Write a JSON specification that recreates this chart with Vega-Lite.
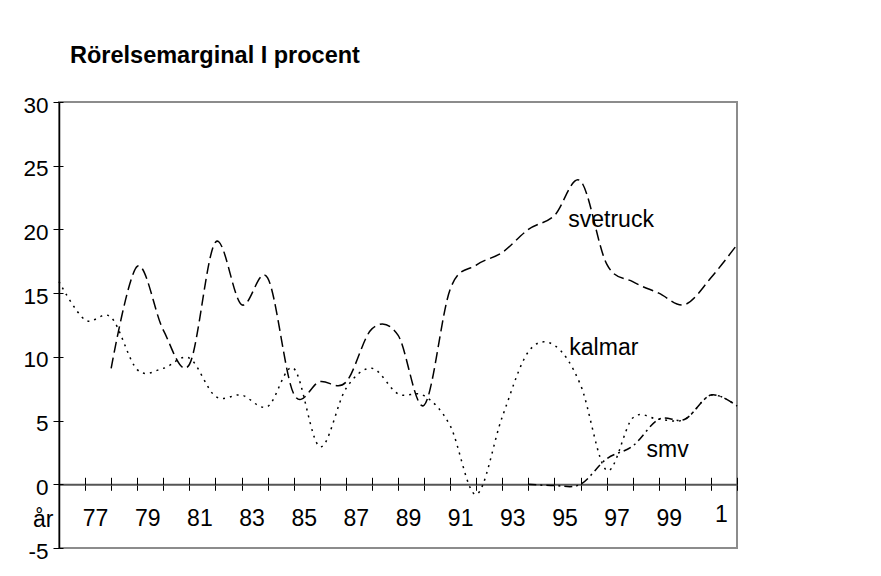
{
  "$schema": "https://vega.github.io/schema/vega-lite/v6.json",
  "width": 678,
  "height": 446,
  "autosize": {"type": "none"},
  "padding": {"left": 59, "top": 102, "right": 144, "bottom": 28},
  "background": "white",
  "title": {
    "text": "Rörelsemarginal I procent",
    "anchor": "start",
    "frame": "group",
    "dx": 11,
    "offset": 8,
    "baseline": "alphabetic",
    "font": "Liberation Sans",
    "fontSize": 23.5,
    "fontWeight": "bold",
    "color": "black"
  },
  "config": {
    "view": {"stroke": "#8c8c8c", "strokeWidth": 2},
    "font": "Liberation Sans",
    "axis": {"grid": false}
  },
  "datasets": {
    "margins": [
      {"series": "svetruck", "year": 1978, "value": 9.1},
      {"series": "svetruck", "year": 1979, "value": 17.1},
      {"series": "svetruck", "year": 1980, "value": 12.1},
      {"series": "svetruck", "year": 1981, "value": 9.4},
      {"series": "svetruck", "year": 1982, "value": 19.0},
      {"series": "svetruck", "year": 1983, "value": 14.1},
      {"series": "svetruck", "year": 1984, "value": 16.2},
      {"series": "svetruck", "year": 1985, "value": 7.1},
      {"series": "svetruck", "year": 1986, "value": 8.05},
      {"series": "svetruck", "year": 1987, "value": 8.0},
      {"series": "svetruck", "year": 1988, "value": 12.2},
      {"series": "svetruck", "year": 1989, "value": 11.7},
      {"series": "svetruck", "year": 1990, "value": 6.2},
      {"series": "svetruck", "year": 1991, "value": 15.3},
      {"series": "svetruck", "year": 1992, "value": 17.2},
      {"series": "svetruck", "year": 1993, "value": 18.2},
      {"series": "svetruck", "year": 1994, "value": 20.0},
      {"series": "svetruck", "year": 1995, "value": 21.1},
      {"series": "svetruck", "year": 1996, "value": 23.8},
      {"series": "svetruck", "year": 1997, "value": 17.3},
      {"series": "svetruck", "year": 1998, "value": 15.9},
      {"series": "svetruck", "year": 1999, "value": 15.0},
      {"series": "svetruck", "year": 2000, "value": 14.1},
      {"series": "svetruck", "year": 2001, "value": 16.2},
      {"series": "svetruck", "year": 2002, "value": 18.8},
      {"series": "kalmar", "year": 1976, "value": 15.9},
      {"series": "kalmar", "year": 1977, "value": 12.9},
      {"series": "kalmar", "year": 1978, "value": 13.1},
      {"series": "kalmar", "year": 1979, "value": 9.0},
      {"series": "kalmar", "year": 1980, "value": 9.1},
      {"series": "kalmar", "year": 1981, "value": 9.9},
      {"series": "kalmar", "year": 1982, "value": 6.9},
      {"series": "kalmar", "year": 1983, "value": 7.0},
      {"series": "kalmar", "year": 1984, "value": 6.1},
      {"series": "kalmar", "year": 1985, "value": 9.1},
      {"series": "kalmar", "year": 1986, "value": 2.95},
      {"series": "kalmar", "year": 1987, "value": 7.5},
      {"series": "kalmar", "year": 1988, "value": 9.1},
      {"series": "kalmar", "year": 1989, "value": 7.1},
      {"series": "kalmar", "year": 1990, "value": 6.95},
      {"series": "kalmar", "year": 1991, "value": 4.6},
      {"series": "kalmar", "year": 1992, "value": -0.8},
      {"series": "kalmar", "year": 1993, "value": 5.3},
      {"series": "kalmar", "year": 1994, "value": 10.4},
      {"series": "kalmar", "year": 1995, "value": 10.9},
      {"series": "kalmar", "year": 1996, "value": 7.8},
      {"series": "kalmar", "year": 1997, "value": 1.1},
      {"series": "kalmar", "year": 1998, "value": 5.2},
      {"series": "kalmar", "year": 1999, "value": 5.1},
      {"series": "kalmar", "year": 2000, "value": 5.1},
      {"series": "kalmar", "year": 2001, "value": 7.0},
      {"series": "kalmar", "year": 2002, "value": 6.15},
      {"series": "smv", "year": 1994, "value": 0.0},
      {"series": "smv", "year": 1995, "value": -0.1},
      {"series": "smv", "year": 1996, "value": 0.0},
      {"series": "smv", "year": 1997, "value": 2.0},
      {"series": "smv", "year": 1998, "value": 3.0},
      {"series": "smv", "year": 1999, "value": 5.1},
      {"series": "smv", "year": 2000, "value": 5.1},
      {"series": "smv", "year": 2001, "value": 7.0},
      {"series": "smv", "year": 2002, "value": 6.15}
    ],
    "labels": [
      {"label": "svetruck", "year": 1995.53, "value": 20.2},
      {"label": "kalmar", "year": 1995.57, "value": 10.15},
      {"label": "smv", "year": 1998.53, "value": 2.17}
    ]
  },
  "layer": [
    {
      "data": {"name": "margins"},
      "mark": {"type": "line", "interpolate": "cardinal", "tension": 0, "color": "black", "strokeWidth": 1.5},
      "encoding": {
        "x": {
          "field": "year",
          "type": "quantitative",
          "scale": {"domain": [1976, 2002], "nice": false, "zero": false},
          "axis": {
            "orient": "bottom",
            "offset": -63.71,
            "values": [1976, 1977, 1978, 1979, 1980, 1981, 1982, 1983, 1984, 1985, 1986, 1987, 1988, 1989, 1990, 1991, 1992, 1993, 1994, 1995, 1996, 1997, 1998, 1999, 2000, 2001, 2002],
            "labelExpr": "datum.value % 2 == 1 ? (datum.value == 2001 ? '1' : slice(toString(datum.value), 2)) : ''",
            "labelOverlap": false,
            "labelFlush": false,
            "labelBound": false,
            "labelOffset": 10,
            "labelPadding": {"condition": {"test": "datum.value == 2001", "value": 13}, "value": 17},
            "labelFontSize": 23,
            "labelFont": "Liberation Sans",
            "labelColor": "black",
            "tickSize": 6,
            "tickColor": "black",
            "tickWidth": 1,
            "domainColor": "#555555",
            "domainWidth": 2,
            "title": "år",
            "titleX": -6,
            "titleY": 42,
            "titleAlign": "right",
            "titleBaseline": "alphabetic",
            "titleAngle": 0,
            "titleFont": "Liberation Sans",
            "titleFontWeight": "normal",
            "titleFontSize": 23,
            "titleColor": "black"
          }
        },
        "y": {
          "field": "value",
          "type": "quantitative",
          "scale": {"domain": [-5, 30], "nice": false, "zero": false},
          "axis": {
            "orient": "left",
            "values": [-5, 0, 5, 10, 15, 20, 25, 30],
            "labelExpr": "toString(datum.value)",
            "tickSize": 6,
            "tickColor": "black",
            "labelPadding": 5,
            "labelOffset": 3,
            "labelFontSize": 22.5,
            "labelFont": "Liberation Sans",
            "labelColor": "black",
            "domainColor": "black",
            "domainWidth": 1.5,
            "title": null
          }
        },
        "strokeDash": {
          "field": "series",
          "type": "nominal",
          "scale": {"domain": ["svetruck", "kalmar", "smv"], "range": [[11, 5], [2, 5], [8, 4, 2, 4]]},
          "legend": null
        }
      }
    },
    {
      "data": {"name": "labels"},
      "mark": {"type": "text", "align": "left", "baseline": "alphabetic", "fontSize": 23, "font": "Liberation Sans", "color": "black"},
      "encoding": {
        "x": {
          "field": "year",
          "type": "quantitative",
          "axis": {
            "orient": "top",
            "offset": -382.29,
            "values": [1976, 1977, 1978, 1979, 1980, 1981, 1982, 1983, 1984, 1985, 1986, 1987, 1988, 1989, 1990, 1991, 1992, 1993, 1994, 1995, 1996, 1997, 1998, 1999, 2000, 2001, 2002],
            "labels": false,
            "domain": false,
            "tickSize": 7,
            "tickColor": "black",
            "tickWidth": 1,
            "title": null
          }
        },
        "y": {
          "field": "value",
          "type": "quantitative",
          "axis": {
            "orient": "right",
            "offset": -678,
            "values": [-5, 0, 5, 10, 15, 20, 25, 30],
            "labels": false,
            "domain": false,
            "tickSize": 4,
            "tickColor": "black",
            "title": null
          }
        },
        "text": {"field": "label"}
      }
    }
  ],
  "resolve": {"axis": {"x": "independent", "y": "independent"}}
}
